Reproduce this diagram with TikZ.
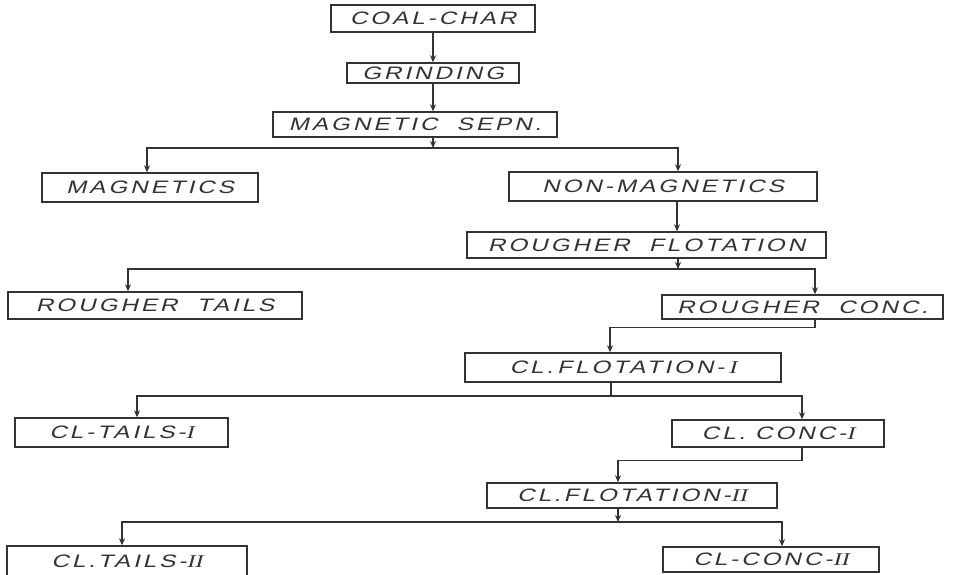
\documentclass[tikz,border=0pt]{standalone}
\usepackage{fontspec}
\usepackage{graphicx}
\newfontfamily\hand[FakeSlant=0.2,LetterSpace=12]{Liberation Sans}
\newfontfamily\handI[FakeSlant=0.2]{Liberation Serif}
\usetikzlibrary{arrows.meta,calc}
\definecolor{ink}{HTML}{333333}
\newcommand{\rmI}{{\handI I}}
\newcommand{\hs}[1]{\scalebox{1.35}[1]{#1}}
\begin{document}
\begin{tikzpicture}[x=1pt,y=-1pt,
  box/.style={draw=ink,line width=1.4pt,text=ink,inner sep=0pt,
    font=\hand\fontsize{18}{20}\selectfont},
  wire/.style={draw=ink,line width=1.2pt},
  arr/.style={wire,-{Stealth[length=7pt,width=6pt]}}]
\useasboundingbox (0,0) rectangle (953,574);
\fill[white] (0,0) rectangle (953,574);
% boxes
\node[box,minimum width=204pt,minimum height=27pt] (coal) at (433,18.5) {\hs{COAL-CHAR}};
\node[box,minimum width=172pt,minimum height=20pt] (grind) at (433,73) {\hs{GRINDING}};
\node[box,minimum width=284pt,minimum height=25pt] (magsep) at (415,124.5) {\hs{MAGNETIC\ \ SEPN.}};
\node[box,minimum width=216pt,minimum height=29pt] (mags) at (150,187.5) {\hs{MAGNETICS}};
\node[box,minimum width=308pt,minimum height=29pt] (nonmag) at (663,186.5) {\hs{NON-MAGNETICS}};
\node[box,minimum width=359pt,minimum height=26pt] (rflot) at (646.5,245) {\hs{ROUGHER\ \ FLOTATION}};
\node[box,minimum width=294pt,minimum height=27pt] (rtails) at (155,305.5) {\hs{ROUGHER\ \ TAILS}};
\node[box,minimum width=281pt,minimum height=24pt] (rconc) at (802.5,307) {\hs{ROUGHER\ \ CONC.}};
\node[box,minimum width=316pt,minimum height=29pt] (clf1) at (623,367.5) {\hs{CL.\,FLOTATION-\,\rmI}};
\node[box,minimum width=213pt,minimum height=29pt] (clt1) at (121.5,432.5) {\hs{CL-TAILS-\rmI}};
\node[box,minimum width=212pt,minimum height=27pt] (clc1) at (778,433.5) {\hs{CL.\ CONC-\rmI}};
\node[box,minimum width=290pt,minimum height=25pt] (clf2) at (632,495.5) {\hs{CL.FLOTATION-\rmI\rmI}};
\node[box,minimum width=240pt,minimum height=30pt] (clt2) at (127,561) {\hs{CL.TAILS-\rmI\rmI}};
\node[box,minimum width=216pt,minimum height=25pt] (clc2) at (771,559.5) {\hs{CL-CONC-\rmI\rmI}};
% junctions
\coordinate (j1) at (433,148);
\coordinate (j2) at (678,269);
\coordinate (j4) at (611,396);
\coordinate (j5) at (618,522);
% connectors
\draw[arr] (coal.south) -- (coal.south |- grind.north);
\draw[arr] (grind.south) -- (grind.south |- magsep.north);
\draw[arr] ([xshift=18pt]magsep.south) -- (j1);
\draw[arr] (j1) -| ([xshift=-3pt]mags.north);
\draw[arr] (j1) -| ([xshift=15pt]nonmag.north);
\draw[arr] ([xshift=14pt]nonmag.south) -- ([xshift=14pt]nonmag.south |- rflot.north);
\draw[arr] ([xshift=31.5pt]rflot.south) -- (j2);
\draw[arr] (j2) -| ([xshift=-27pt]rtails.north);
\draw[arr] (j2) -| ([xshift=12.5pt]rconc.north);
\draw[arr] ([xshift=12.5pt]rconc.south) -- ++(0,8) -| ([xshift=-13pt]clf1.north);
\draw[wire] ([xshift=-12pt]clf1.south) -- (j4);
\draw[arr] (j4) -| ([xshift=15.5pt]clt1.north);
\draw[arr] (j4) -| ([xshift=24pt]clc1.north);
\draw[arr] ([xshift=24pt]clc1.south) -- ++(0,13) -| ([xshift=-14pt]clf2.north);
\draw[arr] ([xshift=-14pt]clf2.south) -- (j5);
\draw[arr] (j5) -| ([xshift=-5pt]clt2.north);
\draw[arr] (j5) -| ([xshift=11pt]clc2.north);
\end{tikzpicture}
\end{document}
